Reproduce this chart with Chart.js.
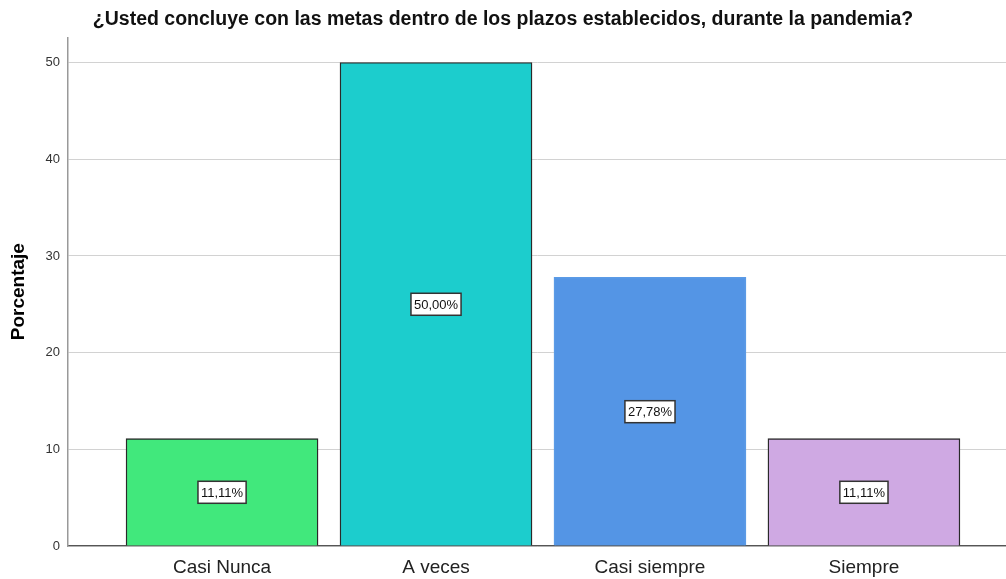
<!DOCTYPE html>
<html lang="es">
<head>
<meta charset="UTF-8">
<script src="https://cdn.jsdelivr.net/npm/chart.js"></script>
<title>Metas durante la pandemia</title>
<style>
  html, body { margin: 0; padding: 0; background: #fff; }
  #wrap { width: 1006px; height: 579px; }
</style>
</head>
<body>
<div id="wrap"><canvas id="myChart" width="1006" height="579"></canvas></div>
<script>
const categorias = ['Casi Nunca', 'A veces', 'Casi siempre', 'Siempre'];
const porcentajes = [11.11, 50.00, 27.78, 11.11];
const colores = ['#41e87c', '#1ccdcd', '#5495e5', '#cfa9e3'];
const bordes = ['#2a2a2a', '#2a2a2a', '#5b9be6', '#2a2a2a'];
const yTicks = [0, 10, 20, 30, 40, 50];

const fontFam = '"Liberation Sans", Arial, sans-serif';

// etiquetas blancas con borde en el centro de cada barra
const etiquetas = {
  id: 'etiquetas',
  afterDatasetsDraw(chart) {
    const ctx = chart.ctx;
    const y = chart.scales.y;
    const meta = chart.getDatasetMeta(0);
    ctx.save();
    ctx.font = '13px ' + fontFam;
    ctx.textAlign = 'center';
    ctx.textBaseline = 'middle';
    meta.data.forEach((bar, i) => {
      const v = porcentajes[i];
      const txt = v.toFixed(2).replace('.', ',') + '%';
      const cy = y.getPixelForValue(v / 2);
      const w = ctx.measureText(txt).width + 6;
      const h = 22;
      ctx.fillStyle = '#fff';
      ctx.fillRect(bar.x - w / 2, cy - h / 2, w, h);
      ctx.strokeStyle = '#333';
      ctx.lineWidth = 1.5;
      ctx.strokeRect(bar.x - w / 2, cy - h / 2, w, h);
      ctx.fillStyle = '#111';
      ctx.fillText(txt, bar.x, cy + 1);
    });
    ctx.restore();
  }
};

new Chart(document.getElementById('myChart'), {
  type: 'bar',
  data: {
    datasets: [{
      data: categorias.map((c, i) => ({ x: i, y: porcentajes[i] })),
      backgroundColor: colores,
      borderColor: bordes,
      borderWidth: 1.4,
      barThickness: 192
    }]
  },
  options: {
    responsive: false,
    animation: false,
    layout: { padding: 0 },
    plugins: {
      legend: { display: false },
      tooltip: { enabled: false },
      title: {
        display: true,
        text: '¿Usted concluye con las metas dentro de los plazos establecidos, durante la pandemia?',
        color: '#111',
        font: { family: fontFam, size: 19.5, weight: 'bold' },
        padding: { top: 8, bottom: 6 }
      }
    },
    scales: {
      x: {
        type: 'linear',
        offset: false,
        min: -0.72,
        max: 3.664,
        grid: { display: false, drawTicks: false, offset: false },
        border: { color: '#555', width: 1.2 },
        afterBuildTicks: (s) => { s.ticks = categorias.map((c, i) => ({ value: i })); },
        afterFit: (s) => { s.height = 33; },
        ticks: {
          autoSkip: false,
          maxRotation: 0,
          padding: 10,
          color: '#222',
          font: { family: fontFam, size: 19 },
          callback: (v) => categorias[v]
        }
      },
      y: {
        min: 0,
        max: 52.6,
        grid: { color: '#d2d2d2', drawTicks: false },
        border: { color: '#999', width: 1.5 },
        afterBuildTicks: (s) => { s.ticks = yTicks.map(v => ({ value: v })); },
        afterFit: (s) => { s.width = 68; },
        title: {
          display: true,
          text: 'Porcentaje',
          color: '#000',
          font: { family: fontFam, size: 19, weight: 'bold' },
          padding: { top: 7, bottom: 4 }
        },
        ticks: {
          padding: 8,
          color: '#333',
          font: { family: fontFam, size: 13 }
        }
      }
    }
  },
  plugins: [etiquetas]
});
</script>
</body>
</html>
